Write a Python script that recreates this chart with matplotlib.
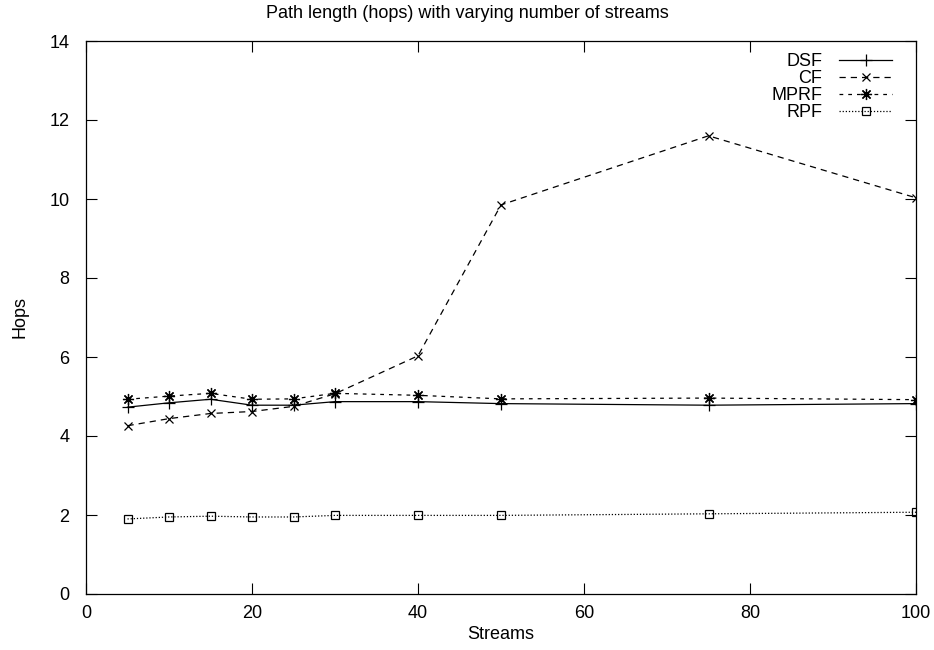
import numpy as np
import matplotlib
matplotlib.use("Agg")
import matplotlib.pyplot as plt

# datos
streams = [5, 10, 15, 20, 25, 30, 40, 50, 75, 100]
dsf = [4.73, 4.84, 4.93, 4.78, 4.78, 4.87, 4.87, 4.82, 4.78, 4.82]
cf = [4.26, 4.44, 4.57, 4.62, 4.75, 5.07, 6.03, 9.85, 11.6, 10.03]
mprf = [4.93, 5.01, 5.08, 4.93, 4.94, 5.08, 5.03, 4.94, 4.96, 4.92]
rpf = [1.90, 1.95, 1.97, 1.95, 1.95, 1.99, 1.99, 1.99, 2.03, 2.07]

plt.rcParams['font.family'] = ['Liberation Sans', 'DejaVu Sans']
plt.rcParams['font.size'] = 13

fig = plt.figure(figsize=(9.34, 6.5), dpi=100)
ax = fig.add_axes([86/934, 1 - 594/650, 830/934, 553/650])

lw = 0.9
ax.plot(streams, dsf, color='black', lw=lw, ls='-', marker='+', ms=8, mew=0.9, label='DSF')
ax.plot(streams, cf, color='black', lw=lw, ls=(0, (5, 4)), marker='x', ms=6, mew=0.9, label='CF')
ax.plot(streams, mprf, color='black', lw=lw, ls=(0, (3, 4)), marker=(8, 2, 0), ms=8, mew=0.9, label='MPRF')
ax.plot(streams, rpf, color='black', lw=lw, ls=(0, (1, 1.5)), marker='s', ms=6, mew=0.9,
        mfc='none', label='RPF')

ax.set_xlim(0, 100)
ax.set_ylim(0, 14)
ax.set_xticks(np.arange(0, 101, 20))
ax.set_yticks(np.arange(0, 15, 2))
ax.tick_params(direction='in', length=8, width=0.8, top=True, right=True)
ax.tick_params(axis='x', pad=8)
ax.tick_params(axis='y', pad=12)
for s in ax.spines.values():
    s.set_linewidth(0.9)

ax.set_xlabel('Streams', labelpad=3)
ax.set_ylabel('Hops', labelpad=15)
fig.text(0.5, 1 - 14/650, 'Path length (hops) with varying number of streams',
         ha='center', va='center')

leg = ax.legend(loc='upper right', bbox_to_anchor=(1 - 17/830, 1 - 5/553), frameon=False,
                markerfirst=False, handlelength=2.9, handletextpad=0.95,
                labelspacing=0.0, borderaxespad=0)

fig.savefig('out.png', dpi=100)
